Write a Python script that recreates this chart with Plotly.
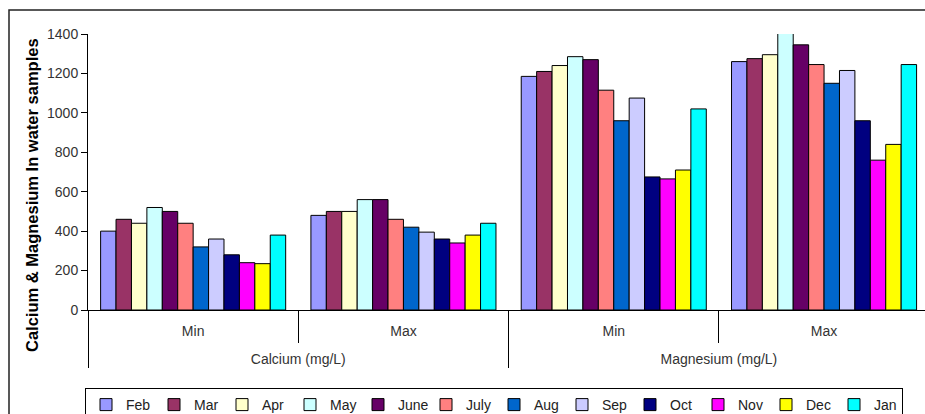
import plotly.graph_objects as go

# Category levels of the x axis (outer labels carry a blank first line so
# they sit one row lower, below the Min/Max ticks)
elements = ["Calcium (mg/L)", "Calcium (mg/L)", "Magnesium (mg/L)", "Magnesium (mg/L)"]
stats = ["Min", "Max", "Min", "Max"]

months = ["Feb", "Mar", "Apr", "May", "June", "July", "Aug", "Sep", "Oct", "Nov", "Dec", "Jan"]

# Values per month: [Ca min, Ca max, Mg min, Mg max]
feb = [400, 480, 1185, 1260]
mar = [460, 500, 1210, 1275]
apr = [440, 500, 1240, 1295]
may = [520, 560, 1285, 1410]
june = [500, 560, 1270, 1345]
july = [440, 460, 1115, 1245]
aug = [320, 420, 960, 1150]
sep = [360, 395, 1075, 1215]
oct_ = [280, 360, 675, 960]
nov = [240, 340, 665, 760]
dec = [235, 380, 710, 840]
jan = [380, 440, 1020, 1245]

series = [feb, mar, apr, may, june, july, aug, sep, oct_, nov, dec, jan]

colors = ["#9999FF", "#993366", "#FFFFCC", "#CCFFFF", "#660066", "#FF8080",
          "#0066CC", "#CCCCFF", "#000080", "#FF00FF", "#FFFF00", "#00FFFF"]

y_ticks = [0, 200, 400, 600, 800, 1000, 1200, 1400]

FONT = "Arial, Liberation Sans, sans-serif"

outer = ["\u00a0<br>" + e for e in elements]

fig = go.Figure()
for name, vals, col in zip(months, series, colors):
    fig.add_trace(go.Bar(
        x=[outer, stats],
        y=vals,
        name=name,
        cliponaxis=False,
        marker=dict(color=col, line=dict(color="black", width=1)),
    ))

W, H = 925, 414
L, R, T, B = 88, 0, 34, 104
pw = W - L - R
ph = H - T - B

def px_x(p):
    return (p - L) / pw

def px_y(p):
    return (H - B - p) / ph

fig.update_layout(
    width=W, height=H,
    margin=dict(l=L, r=R, t=T, b=B, autoexpand=False),
    paper_bgcolor="white",
    plot_bgcolor="white",
    barmode="group",
    bargap=0.12,
    bargroupgap=0,
    font=dict(family=FONT, size=14, color="#333333"),
    showlegend=True,
    legend=dict(
        orientation="h",
        x=px_x(85), xanchor="left",
        y=px_y(388), yanchor="top",
        bordercolor="black", borderwidth=1,
        bgcolor="white",
        font=dict(family=FONT, size=14, color="#222222"),
        entrywidth=23, entrywidthmode="pixels",
        traceorder="normal",
    ),
    xaxis=dict(
        type="multicategory",
        range=[-0.5, 3.48],
        showline=True, linecolor="black", linewidth=1,
        ticks="outside", tickson="boundaries", ticklen=32, tickcolor="black",
        ticklabelstandoff=8,
        showdividers=True, dividercolor="black", dividerwidth=1,
        showgrid=False, zeroline=False,
        tickfont=dict(family=FONT, size=14, color="#333333"),
    ),
    yaxis=dict(
        range=[0, 1400],
        tickvals=y_ticks,
        showline=True, linecolor="black", linewidth=1,
        ticks="outside", ticklen=6, tickcolor="black",
        showgrid=False, zeroline=False,
        tickfont=dict(family=FONT, size=14, color="#333333"),
    ),
    annotations=[dict(
        text="<b>Calcium & Magnesium In water samples</b>",
        xref="paper", yref="paper",
        x=px_x(32), y=px_y(195),
        xanchor="center", yanchor="middle",
        textangle=-90, showarrow=False,
        font=dict(family=FONT, size=16.5, color="black"),
    )],
    shapes=[dict(
        type="rect", xref="paper", yref="paper",
        x0=px_x(9), x1=px_x(960), y0=px_y(440), y1=px_y(10),
        line=dict(color="#222222", width=1.5),
        fillcolor="rgba(0,0,0,0)", layer="below",
    )],
)

fig.write_html("out.html")
